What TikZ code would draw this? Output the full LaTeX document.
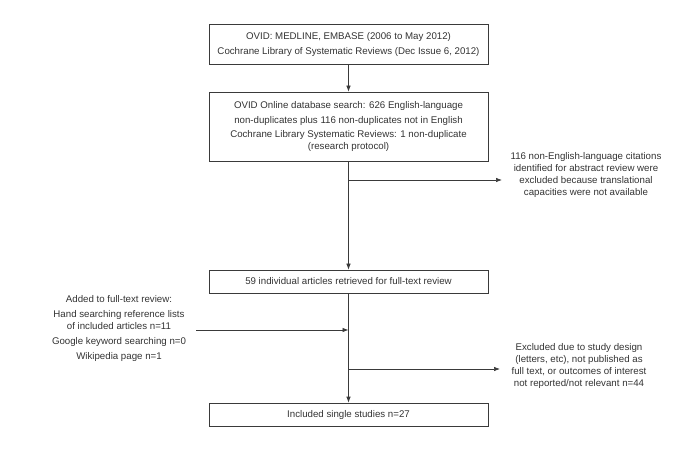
\documentclass[tikz,border=0pt]{standalone}
\usepackage{fontspec}
\setmainfont{Liberation Sans}
\usetikzlibrary{arrows.meta}
\definecolor{ln}{HTML}{3A3A3A}
\definecolor{tx}{HTML}{333333}
\begin{document}
\begin{tikzpicture}[x=1bp,y=-1bp,
  every node/.style={font=\fontsize{9.7bp}{12bp}\selectfont, text=tx, inner sep=0pt},
  box/.style={draw=ln, line width=0.7bp, minimum width=279bp, align=center},
  note/.style={align=center},
  conn/.style={draw=ln, line width=0.7bp},
  arr/.style={conn, -{Latex[length=6bp,width=4.5bp]}}]
\useasboundingbox (0,0) rectangle (696,451);
\node[box, minimum height=40bp] (b1) at (348.5,44) {OVID: MEDLINE, EMBASE (2006 to May 2012)\\[3bp]Cochrane Library of Systematic Reviews (Dec Issue 6, 2012)};
\node[box, minimum height=69bp] (b2) at (348.5,126.5) {OVID Online database search: 626 English-language\\[2.5bp]non-duplicates plus 116 non-duplicates not in English\\[2.5bp]Cochrane Library Systematic Reviews: 1 non-duplicate\\(research protocol)};
\node[box, minimum height=23bp] (b3) at (348.5,281.5) {59 individual articles retrieved for full-text review};
\node[box, minimum height=23bp] (b4) at (348.5,414.5) {Included single studies n=27};
\node[note] (r1) at (586,175) {116 non-English-language citations\\identified for abstract review were\\excluded because translational\\capacities were not available};
\node[note] (r2) at (579,366) {Excluded due to study design\\(letters, etc), not published as\\full text, or outcomes of interest\\not reported/not relevant n=44};
\node[note] (l1) at (119,328) {Added to full-text review:\\[3bp]Hand searching reference lists\\of included articles n=11\\[3bp]Google keyword searching n=0\\[3bp]Wikipedia page n=1};
\coordinate (j1) at (348.5,180);
\coordinate (e1) at (502,180);
\coordinate (j2) at (348.5,330);
\coordinate (j3) at (348.5,369);
\coordinate (e3) at (500,369);
\coordinate (lin) at (196,330);
\draw[arr] (b1.south) -- (b2.north);
\draw[arr] (b2.south) -- (b3.north);
\draw[arr] (j1) -- (e1);
\draw[arr] (b3.south) -- (b4.north);
\draw[arr] (lin) -- (j2);
\draw[arr] (j3) -- (e3);
\end{tikzpicture}
\end{document}
